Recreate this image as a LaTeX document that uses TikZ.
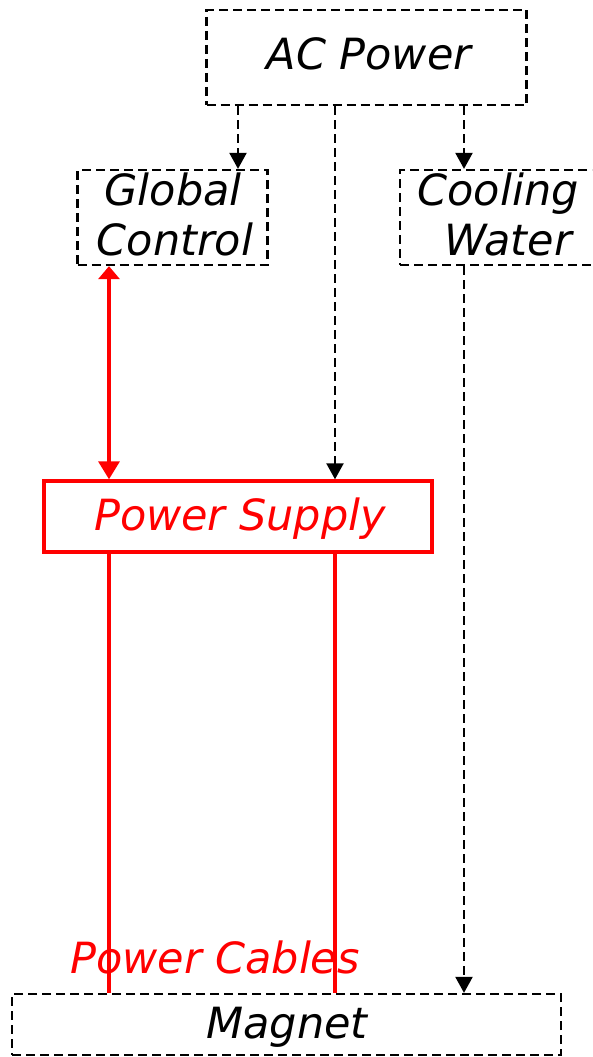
\documentclass[tikz,border=0pt]{standalone}
\usepackage{fontspec}
\setmainfont{DejaVu Sans}
\usetikzlibrary{arrows.meta}
\begin{document}
\begin{tikzpicture}[x=1pt,y=-1pt,
  dbox/.style={draw,dash pattern=on 9pt off 5pt,line width=2.3pt,inner sep=0pt,rectangle},
  rbox/.style={draw=red,line width=3.4pt,inner sep=0pt,rectangle},
  txt/.style={inner sep=0pt,anchor=base,font=\fontsize{43}{50}\selectfont\itshape},
  darrow/.style={line width=2.3pt,dash pattern=on 9pt off 5pt,-{Triangle[length=16pt,width=17pt]}},
  redline/.style={red,line width=3.4pt},
  redarrow/.style={red,line width=3.4pt,{Triangle[length=13pt,width=21pt]}-{Triangle[length=18pt,width=21pt]}}]
\clip (0,0) rectangle (592,1057);
\fill[white] (0,0) rectangle (592,1057);
% boxes
\node[dbox,minimum width=320pt,minimum height=95pt] (ac) at (366.5,57.5) {};
\node[dbox,minimum width=190pt,minimum height=95pt] (gc) at (172.5,217.5) {};
\node[dbox,minimum width=200pt,minimum height=95pt] (cw) at (500,217.5) {};
\node[rbox,minimum width=388pt,minimum height=71pt] (ps) at (238,516.5) {};
\node[dbox,minimum width=549pt,minimum height=61pt] (mag) at (286.5,1024.5) {};
% texts
\node[txt] (actxt) at (369,70) {AC Power};
\node[txt] (gctxta) at (173,205) {Global};
\node[txt] (gctxtb) at (175,255) {Control};
\node[txt] (cwtxta) at (498,205) {Cooling};
\node[txt] (cwtxtb) at (508,255) {Water};
\node[txt,text=red] (pstxt) at (240,530) {Power Supply};
\node[txt] (magtxt) at (287,1038) {Magnet};
\node[txt,text=red] (pctxt) at (215,973) {Power Cables};
% x positions
\coordinate (xr) at (109,0);
\coordinate (xa) at (238,0);
\coordinate (xm) at (335,0);
\coordinate (xc) at (464,0);
% connectors
\draw[darrow] (ac.south -| xa) -- (gc.north -| xa);
\draw[darrow] (ac.south -| xm) -- (ps.north -| xm);
\draw[darrow] (ac.south -| xc) -- (cw.north -| xc);
\draw[darrow] (cw.south -| xc) -- (mag.north -| xc);
\draw[redarrow] (gc.south -| xr) -- (ps.north -| xr);
\draw[redline] (ps.south -| xr) -- (mag.north -| xr);
\draw[redline] (ps.south -| xm) -- (mag.north -| xm);
\end{tikzpicture}
\end{document}
